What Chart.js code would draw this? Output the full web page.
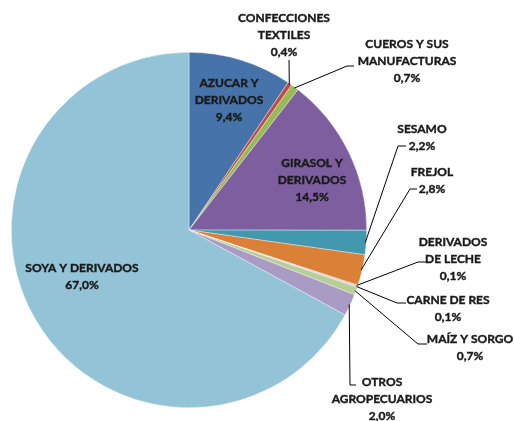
<!DOCTYPE html>
<html>
<head>
<meta charset="utf-8">
<script src="https://cdn.jsdelivr.net/npm/chart.js@4/dist/chart.umd.min.js"></script>
<style>
    html, body { margin: 0; padding: 0; background: #ffffff; }
    #wrap { width: 514px; height: 421px; }
</style>
</head>
<body>
<div id="wrap"><canvas id="pieChart" width="514" height="421"></canvas></div>
<script>
// Data (percent of exports), clockwise from 12 o'clock
const categories = [
    ["AZUCAR Y", "DERIVADOS"],
    ["CONFECCIONES", "TEXTILES"],
    ["CUEROS Y SUS", "MANUFACTURAS"],
    ["GIRASOL Y", "DERIVADOS"],
    ["SESAMO"],
    ["FREJOL"],
    ["DERIVADOS", "DE LECHE"],
    ["CARNE DE RES"],
    ["MAÍZ Y SORGO"],
    ["OTROS", "AGROPECUARIOS"],
    ["SOYA Y DERIVADOS"]
];
const values = [9.4, 0.4, 0.7, 14.5, 2.2, 2.8, 0.1, 0.1, 0.7, 2.0, 67.0];
const colors = ["#4674AA", "#BE4B48", "#98B954", "#7D5FA0", "#4198AF", "#DA8137",
                "#D8A8A6", "#A9C0DA", "#B9CD96", "#A99BC4", "#93C3D6"];

// Label layout: x,y = centre of first text line; leader = extra points after the slice edge
const labelLayout = [
    { x: 229, y: 83 },
    { x: 284, y: 18, leader: [[289, 60]] },
    { x: 407, y: 44, leader: [[347, 66], [354, 66]] },
    { x: 312, y: 163 },
    { x: 422, y: 129, leader: [[398, 146], [406, 146]] },
    { x: 432, y: 172, leader: [[410, 189], [417, 189]] },
    { x: 453, y: 242, leader: [[418, 262], [426, 262]] },
    { x: 448, y: 300, leader: [[397, 303], [406, 303]] },
    { x: 470, y: 339, leader: [[418, 344], [427, 344]] },
    { x: 382, y: 382, leader: [[350, 385], [356, 385]] },
    { x: 82, y: 268 }
];

function fmt(v) {
    return v.toFixed(1).replace(".", ",") + "%";
}

const labelPlugin = {
    id: "sliceLabels",
    afterDraw(chart) {
        const ctx = chart.ctx;
        const meta = chart.getDatasetMeta(0);
        ctx.save();
        ctx.font = "bold 12px Lato, 'Open Sans', sans-serif";
        ctx.textAlign = "center";
        ctx.textBaseline = "middle";
        meta.data.forEach(function (arc, i) {
            const lay = labelLayout[i];
            if (lay.leader) {
                const mid = (arc.startAngle + arc.endAngle) / 2;
                const r = arc.outerRadius - 1;
                ctx.beginPath();
                ctx.moveTo(arc.x + Math.cos(mid) * r, arc.y + Math.sin(mid) * r);
                lay.leader.forEach(function (p) { ctx.lineTo(p[0], p[1]); });
                ctx.strokeStyle = "#000000";
                ctx.lineWidth = 1;
                ctx.stroke();
            }
            const lines = categories[i].concat([fmt(values[i])]);
            ctx.fillStyle = "#1A1A1A";
            ctx.strokeStyle = "#1A1A1A";
            ctx.lineWidth = 0.4;
            lines.forEach(function (t, k) {
                ctx.fillText(t, lay.x, lay.y + k * 17.3);
                ctx.strokeText(t, lay.x, lay.y + k * 17.3);
            });
        });
        ctx.restore();
    }
};

let pieChart;

function createChart() {
    const ctx = document.getElementById("pieChart").getContext("2d");
    pieChart = new Chart(ctx, {
        type: "pie",
        data: {
            labels: categories.map(function (c) { return c.join(" "); }),
            datasets: [{
                data: values,
                backgroundColor: colors,
                borderColor: "rgba(255,255,255,0.6)",
                borderWidth: 0.6
            }]
        },
        options: {
            responsive: false,
            animation: false,
            layout: { padding: { left: 11, right: 147, top: 52, bottom: 13 } },
            plugins: {
                legend: { display: false },
                tooltip: { enabled: false }
            }
        },
        plugins: [labelPlugin]
    });
}

window.onload = createChart;
</script>
</body>
</html>
